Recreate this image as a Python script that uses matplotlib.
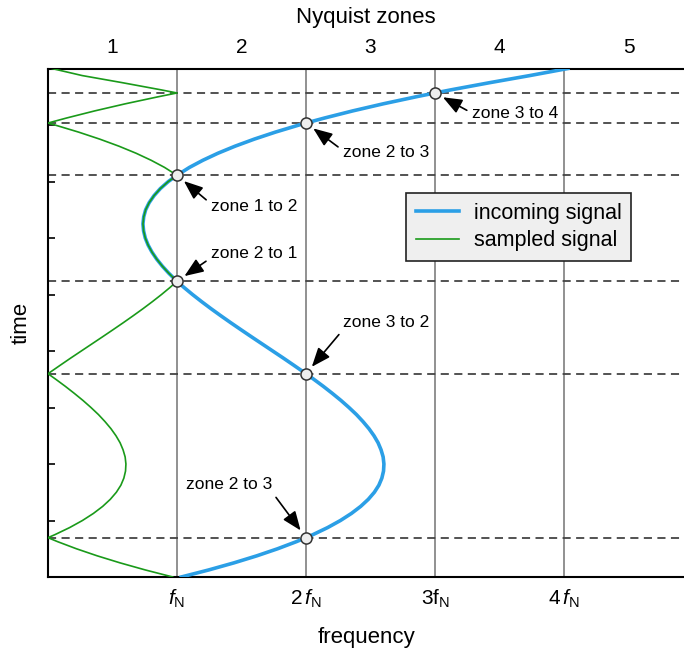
import numpy as np
import matplotlib
matplotlib.use("Agg")
import matplotlib.pyplot as plt
from matplotlib.lines import Line2D

plt.rcParams['font.family'] = ['Liberation Sans', 'DejaVu Sans']
plt.rcParams['mathtext.fontset'] = 'custom'
plt.rcParams['mathtext.rm'] = 'Liberation Sans'
plt.rcParams['mathtext.it'] = 'Liberation Sans:italic'

# incoming signal: frequency (in units of f_N) against time
time_pts = [0, 0.125, 0.25, 0.375, 0.5, 0.625, 0.696, 0.75, 0.875, 1.0,
            1.125, 1.25, 1.375, 1.5, 1.625, 1.75, 1.875, 2.0, 2.125, 2.25,
            2.375, 2.5, 2.625, 2.75, 2.875, 3.0, 3.125, 3.25, 3.375, 3.5,
            3.598, 3.625, 3.75, 3.875, 4.0, 4.125, 4.25, 4.375, 4.5, 4.625,
            4.75, 4.875, 5.0, 5.125, 5.235, 5.25, 5.375, 5.5, 5.625, 5.75,
            5.875, 6.0, 6.125, 6.25, 6.375, 6.5, 6.625, 6.75, 6.875, 7.0,
            7.11, 7.25, 7.375, 7.5, 7.625, 7.75, 7.875, 8.0, 8.035, 8.125,
            8.25, 8.375, 8.5, 8.567, 8.625, 8.75, 8.875, 9.0]
freq_pts = [1.033, 1.246, 1.441, 1.619, 1.780, 1.925, 2.0, 2.054, 2.168,
            2.267, 2.352, 2.424, 2.483, 2.530, 2.565, 2.588, 2.601, 2.604,
            2.598, 2.582, 2.559, 2.527, 2.488, 2.442, 2.391, 2.333, 2.271,
            2.204, 2.134, 2.060, 2.0, 1.983, 1.904, 1.824, 1.742, 1.660,
            1.578, 1.497, 1.417, 1.339, 1.263, 1.190, 1.120, 1.054, 1.0,
            0.993, 0.937, 0.887, 0.843, 0.806, 0.776, 0.754, 0.741, 0.736,
            0.742, 0.757, 0.784, 0.822, 0.871, 0.933, 1.0, 1.097, 1.200,
            1.317, 1.450, 1.599, 1.764, 1.946, 2.0, 2.146, 2.363, 2.599,
            2.855, 3.0, 3.130, 3.426, 3.735, 4.03]

# zone boundary crossings
cross_time = [0.696, 3.598, 5.235, 7.11, 8.035, 8.567]
cross_freq = [2, 2, 1, 1, 2, 3]
cross_text = ['zone 2 to 3', 'zone 3 to 2', 'zone 2 to 1', 'zone 1 to 2',
              'zone 2 to 3', 'zone 3 to 4']
text_pos = [(1.07, 1.63), (2.287, 4.51), (1.264, 5.73), (1.264, 6.55),
            (2.287, 7.52), (3.287, 8.21)]
arrow_from = [(1, 0), (0, 0), (0, 0.2), (0, 0.7), (0, 0.6), (0, 0.5)]

freq_ticks = [1, 2, 3, 4]
freq_labels = [r'$f_\mathrm{N}$', r'$2\,f_\mathrm{N}$', r'3$\mathrm{f}_\mathrm{N}$',
               r'$4\,f_\mathrm{N}$']
zone_ticks = [0.5, 1.5, 2.5, 3.5, 4.5]
zone_labels = ['1', '2', '3', '4', '5']

blue = '#2b9fe6'
green = '#1a9a1a'

t = np.array(time_pts)
f = np.array(freq_pts)
# fold into the first Nyquist zone
sampled = np.abs(f - 2 * np.round(f / 2))

fig = plt.figure(figsize=(6.84, 6.54), dpi=100)
ax = fig.add_axes([48/684, 1 - 577/654, 636/684, 508.5/654])
ax.set_xlim(0, 636/129)
ax.set_ylim(0, 9)

for x in freq_ticks:
    ax.axvline(x, color='#888888', lw=1.3, zorder=1)
for y in cross_time:
    ax.axhline(y, color='#444444', lw=1.3, dashes=(4.5, 3), zorder=1)

ax.plot(f, t, color=blue, lw=2.6, zorder=3, solid_joinstyle='round')
ax.plot(sampled, t, color=green, lw=1.2, zorder=4)
ax.plot(cross_freq, cross_time, 'o', ms=8, mfc='#eeeeee', mec='#333333',
        mew=1.1, zorder=5)

for xf, yt, txt, (tx, ty), rp in zip(cross_freq, cross_time, cross_text,
                                     text_pos, arrow_from):
    ax.annotate(txt, xy=(xf, yt), xytext=(tx, ty), fontsize=12.5,
                ha='left', va='center', zorder=6,
                arrowprops=dict(arrowstyle='-|>,head_length=0.58,head_width=0.23',
                                mutation_scale=20, color='black', lw=1.2,
                                relpos=rp, shrinkA=2, shrinkB=6.5))

ax.set_xticks(freq_ticks)
ax.set_xticklabels(freq_labels, fontsize=15)
ax.tick_params(axis='x', length=0, pad=8)
ax.set_yticks(range(1, 9))
ax.set_yticklabels([])
ax.tick_params(axis='y', direction='in', length=5, width=1.2)

ax.spines['right'].set_visible(False)
for s in ['left', 'bottom', 'top']:
    ax.spines[s].set_linewidth(1.5)

ax.set_xlabel('frequency', fontsize=16, labelpad=12)
ax.set_ylabel('time', fontsize=16, labelpad=8)

top = ax.twiny()
top.set_xlim(ax.get_xlim())
top.set_xticks(zone_ticks)
top.set_xticklabels(zone_labels, fontsize=15)
top.tick_params(axis='x', length=0, pad=8)
for s in top.spines.values():
    s.set_visible(False)
top.set_xlabel('Nyquist zones', fontsize=16, labelpad=11)

handles = [Line2D([], [], color=blue, lw=2.6), Line2D([], [], color=green, lw=1.2)]
leg = ax.legend(handles, ['incoming signal', 'sampled signal'], fontsize=15.5,
                loc='upper left', bbox_to_anchor=(0.563, 0.755), borderaxespad=0,
                fancybox=False, framealpha=1, facecolor='#efefef',
                edgecolor='#222222', handlelength=2.0, handletextpad=0.7,
                borderpad=0.45, labelspacing=0.3)
leg.get_frame().set_linewidth(1.2)
leg.set_zorder(7)

fig.savefig('out.png', dpi=100)
